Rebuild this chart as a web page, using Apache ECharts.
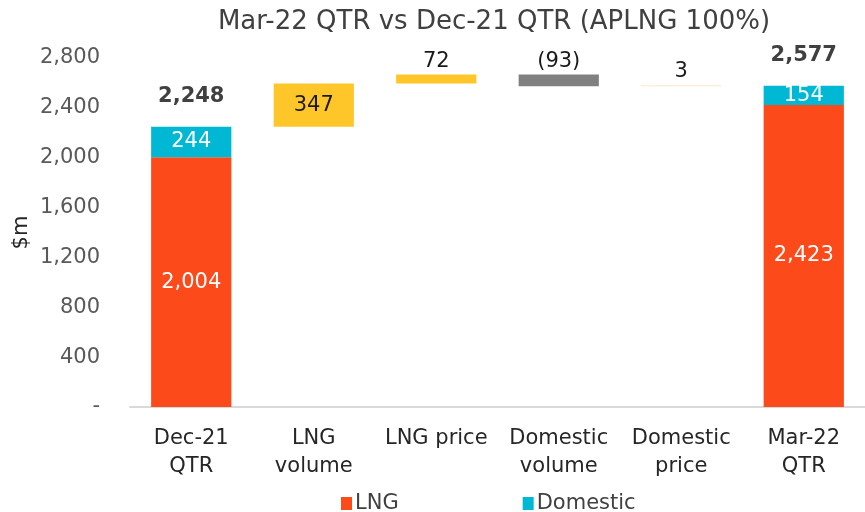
<meta charset="UTF-8">
<script src="https://cdn.jsdelivr.net/npm/echarts@6/dist/echarts.min.js"></script>
<style>html,body{margin:0;padding:0;background:#fff;}</style>
<div id="main" style="width: 865px; height: 512px;"></div>
<script>
    var categories = ['Dec-21\nQTR', 'LNG\nvolume', 'LNG price', 'Domestic\nvolume', 'Domestic\nprice', 'Mar-22\nQTR'];
    var lngValues = [2004, null, null, null, null, 2423];
    var domesticValues = [244, null, null, null, null, 154];
    var changeValues = [null, 347, 72, -93, 3, null];
    var totalValues = [2248, null, null, null, null, 2577];
    var changeColors = [null, '#FFC629', '#FFC629', '#808080', '#FFE9C4', null];

    var FONT = 'DejaVu Sans';

    // running total -> invisible base under each change bar
    var baseData = [];
    var changeData = [];
    var running = 0;
    for (var i = 0; i < categories.length; i++) {
        if (totalValues[i] != null) {
            running = totalValues[i];
            baseData.push('-');
            changeData.push('-');
        } else {
            var c = changeValues[i];
            var start = c >= 0 ? running : running + c;
            baseData.push(start);
            changeData.push({ value: Math.abs(c), raw: c, itemStyle: { color: changeColors[i] } });
            running += c;
        }
    }

    function fmt(v) {
        return v.toString().replace(/\B(?=(\d{3})+(?!\d))/g, ',');
    }

    var mychart = echarts.init(document.getElementById('main'));
    var option = {
        animation: false,
        textStyle: { fontFamily: FONT },
        title: {
            text: 'Mar-22 QTR vs Dec-21 QTR (APLNG 100%)',
            left: 489,
            top: 4,
            textAlign: 'center',
            textStyle: { fontFamily: FONT, fontSize: 26, fontWeight: 'normal', color: '#404040' }
        },
        legend: {
            top: 488,
            left: 336,
            data: ['LNG', 'Domestic'],
            itemWidth: 11,
            itemHeight: 13,
            itemGap: 124,
            icon: 'rect',
            textStyle: { fontFamily: FONT, fontSize: 21, color: '#404040', padding: [0, 0, 0, -2] }
        },
        grid: {
            left: 130,
            right: -6,
            top: 58,
            bottom: 105
        },
        xAxis: {
            type: 'category',
            data: categories,
            axisLine: { lineStyle: { color: '#D9D9D9', width: 2 } },
            axisTick: { show: false },
            axisLabel: { fontFamily: FONT, fontSize: 21, color: '#262626', lineHeight: 28, margin: 18, interval: 0 }
        },
        yAxis: {
            type: 'value',
            min: 0,
            max: 2800,
            interval: 400,
            name: '$m',
            nameLocation: 'middle',
            nameGap: 98,
            nameMoveOverlap: false,
            nameRotate: 90,
            nameTextStyle: { fontFamily: FONT, fontSize: 21, color: '#262626' },
            splitLine: { show: false },
            axisLine: { show: false },
            axisTick: { show: false },
            axisLabel: {
                fontFamily: FONT, fontSize: 21, color: '#595959', margin: 30,
                formatter: function (v) { return v === 0 ? '-' : fmt(v); }
            }
        },
        series: [
            {
                name: 'base',
                type: 'bar',
                stack: 'w',
                barWidth: '65.5%',
                itemStyle: { color: 'transparent' },
                silent: true,
                data: baseData
            },
            {
                name: 'LNG',
                type: 'bar',
                stack: 'w',
                itemStyle: { color: '#FC4A1A' },
                label: {
                    show: true, position: 'inside', color: '#fff', fontFamily: FONT, fontSize: 21,
                    formatter: function (p) { return fmt(p.value); }
                },
                data: lngValues.map(function (v) { return v == null ? '-' : v; })
            },
            {
                name: 'Domestic',
                type: 'bar',
                stack: 'w',
                itemStyle: { color: '#00B8D4' },
                label: {
                    show: true, position: 'inside', color: '#fff', fontFamily: FONT, fontSize: 21,
                    formatter: function (p) { return fmt(p.value); }
                },
                data: domesticValues.map(function (v) { return v == null ? '-' : v; })
            },
            {
                name: 'change',
                type: 'bar',
                stack: 'w',
                barMinHeight: 1,
                label: {
                    show: true, fontFamily: FONT, fontSize: 21, color: '#1a1a1a',
                    position: 'top', distance: 3,
                    formatter: function (p) {
                        var r = p.data.raw;
                        return r < 0 ? '(' + Math.abs(r) + ')' : String(r);
                    }
                },
                data: changeData.map(function (d, i) {
                    if (d !== '-' && i === 1) {
                        d.label = { position: 'inside' };
                    }
                    return d;
                })
            },
            {
                name: 'total',
                type: 'bar',
                stack: 'w',
                itemStyle: { color: 'transparent' },
                label: {
                    show: true, position: 'top', distance: 20, fontFamily: FONT, fontSize: 21,
                    fontWeight: 'bold', color: '#404040',
                    formatter: function (p) { return fmt(totalValues[p.dataIndex]); }
                },
                data: totalValues.map(function (v) { return v == null ? '-' : 0; })
            }
        ]
    };
    mychart.setOption(option);
</script>
